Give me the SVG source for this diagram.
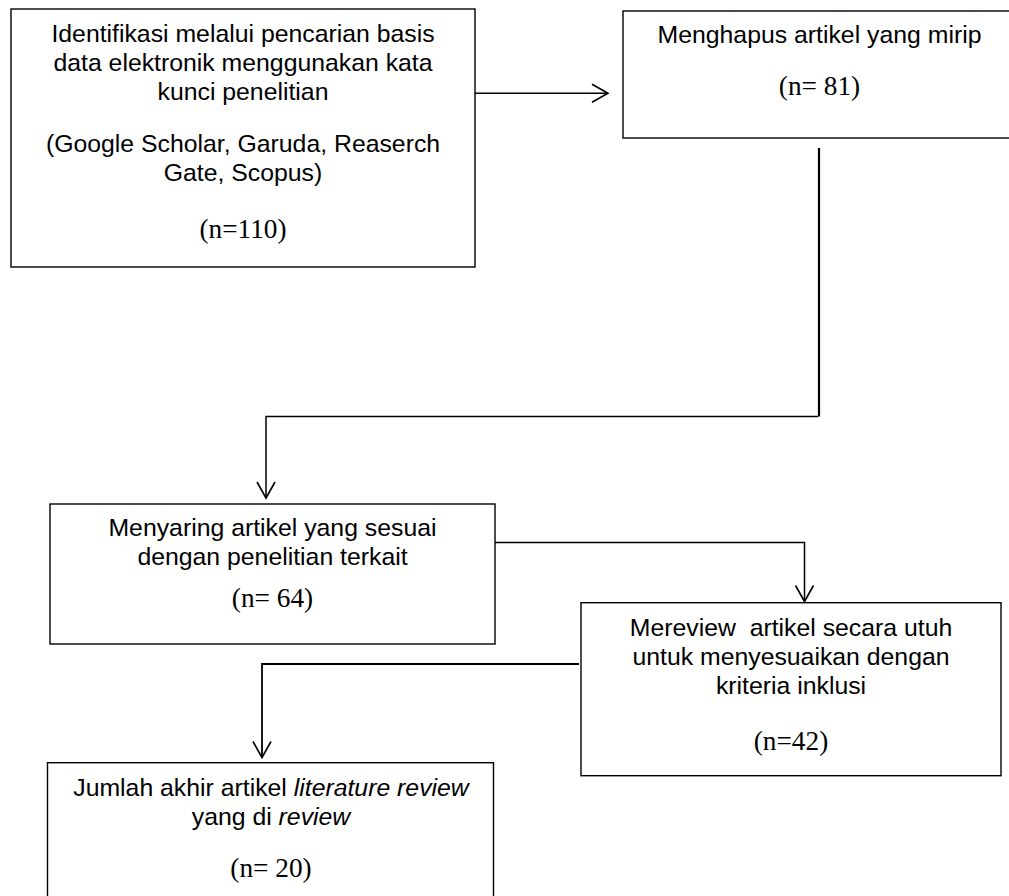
<svg xmlns="http://www.w3.org/2000/svg" width="1009" height="896" viewBox="0 0 1009 896">
<style>
.box{fill:#fff;stroke:#000;stroke-width:1.4}
.s{font-family:"Liberation Sans",Arial,sans-serif;font-size:24.8px;fill:#000;text-anchor:middle}
.n{font-family:"Liberation Serif","Times New Roman",serif;font-size:27.3px;fill:#000;text-anchor:middle}
.c{fill:none;stroke:#000;stroke-width:1.5}
</style>
<defs>
<marker id="ah" markerUnits="userSpaceOnUse" markerWidth="20" markerHeight="22" viewBox="-18 -11 20 22" refX="0" refY="0" orient="auto">
<path d="M-16,-9 L0,0 L-16,9" fill="none" stroke="#000" stroke-width="1.6"/>
</marker>
</defs>
<rect width="1009" height="896" fill="#fff"/>
<g id="n1">
<rect class="box" x="11" y="9" width="464" height="258"/>
<text class="s" x="243" y="42">Identifikasi melalui pencarian basis</text>
<text class="s" x="243" y="71">data elektronik menggunakan kata</text>
<text class="s" x="243" y="100">kunci penelitian</text>
<text class="s" x="243" y="152">(Google Scholar, Garuda, Reaserch</text>
<text class="s" x="243" y="181">Gate, Scopus)</text>
<text class="n" x="243" y="238">(n=110)</text>
</g>
<g id="n2">
<rect class="box" x="623" y="11" width="393" height="127"/>
<text class="s" x="819.5" y="43">Menghapus artikel yang mirip</text>
<text class="n" x="819.5" y="95">(n= 81)</text>
</g>
<g id="n3">
<rect class="box" x="50" y="504" width="445" height="140"/>
<text class="s" x="272.5" y="536">Menyaring artikel yang sesuai</text>
<text class="s" x="272.5" y="565">dengan penelitian terkait</text>
<text class="n" x="272.5" y="607">(n= 64)</text>
</g>
<g id="n4">
<rect class="box" x="581" y="602.7" width="420" height="173"/>
<text class="s" x="791" y="636" xml:space="preserve">Mereview  artikel secara utuh</text>
<text class="s" x="791" y="665">untuk menyesuaikan dengan</text>
<text class="s" x="791" y="694">kriteria inklusi</text>
<text class="n" x="791" y="750">(n=42)</text>
</g>
<g id="n5">
<rect class="box" x="47.5" y="762.7" width="446" height="150"/>
<text class="s" x="271" y="796">Jumlah akhir artikel <tspan font-style="italic">literature review</tspan></text>
<text class="s" x="271" y="825">yang di <tspan font-style="italic">review</tspan></text>
<text class="n" x="271" y="877">(n= 20)</text>
</g>
<g id="connectors">
<path class="c" d="M475,93.3 H608" marker-end="url(#ah)"/>
<path class="c" d="M819,148 V416.5" style="stroke-width:2.2"/>
<path class="c" d="M818,416.5 H266 V498" marker-end="url(#ah)"/>
<path class="c" d="M495,542.5 H804.5 V601.5" marker-end="url(#ah)"/>
<path class="c" d="M579,664 H262 V757.5" marker-end="url(#ah)" style="stroke-width:1.8"/>
</g>
</svg>
